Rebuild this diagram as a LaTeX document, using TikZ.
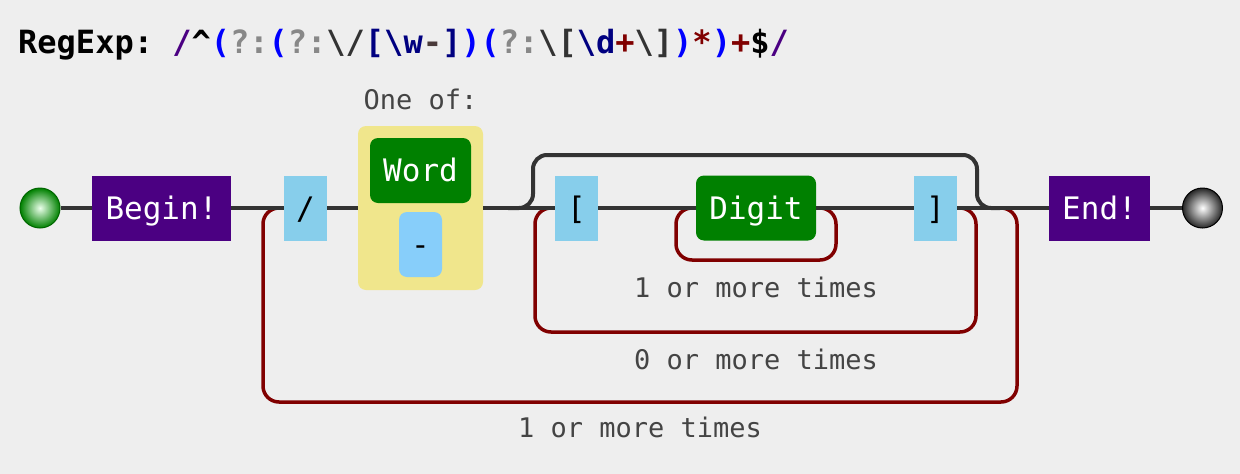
\documentclass[tikz,border=0pt]{standalone}
\usepackage{fontspec}
\setmonofont{DejaVu Sans Mono}
\usetikzlibrary{calc}

\definecolor{pagebg}{HTML}{EEEEEE}
\definecolor{railgray}{HTML}{333333}
\definecolor{loopred}{HTML}{800000}
\definecolor{anchorpurple}{HTML}{4B0082}
\definecolor{litblue}{HTML}{87CEEB}
\definecolor{setblue}{HTML}{87CEFA}
\definecolor{classgreen}{HTML}{008000}
\definecolor{altyellow}{HTML}{F0E68C}
\definecolor{notegray}{HTML}{444444}
\definecolor{rxblue}{HTML}{0000FF}
\definecolor{rxnavy}{HTML}{000080}
\definecolor{rxgray}{HTML}{888888}
\definecolor{rxmuted}{HTML}{4A3A3A}

\newcommand\railfont{\ttfamily\fontsize{31}{31}\selectfont}
\newcommand\headfont{\ttfamily\bfseries\fontsize{32}{32}\selectfont}
\newcommand\notefont{\ttfamily\fontsize{27}{27}\selectfont}
\newcommand\rxdelim[1]{\textcolor{anchorpurple}{#1}}
\newcommand\rxgrp[1]{\textcolor{rxblue}{#1}}
\newcommand\rxmeta[1]{\textcolor{rxgray}{#1}}
\newcommand\rxesc[1]{\textcolor{railgray}{#1}}
\newcommand\rxset[1]{\textcolor{rxnavy}{#1}}
\newcommand\rxquant[1]{\textcolor{loopred}{#1}}

\begin{document}
\begin{tikzpicture}[x=1pt, y=-1pt,
	rail/.style={line width=4pt, color=railgray},
	repeatloop/.style={line width=3.5pt, color=loopred, rounded corners=16pt},
	railbox/.style={inner sep=0pt, minimum height=65pt, font=\railfont, text height=22.6pt, text depth=0pt},
	anchorbox/.style={railbox, fill=anchorpurple, text=white},
	litbox/.style={railbox, fill=litblue, text=black, minimum width=43pt},
	classbox/.style={railbox, fill=classgreen, text=white, rounded corners=8pt},
	notetext/.style={font=\notefont, text=notegray, anchor=base, inner sep=0pt}]
			%%%%% START %%%%%
			
			\fill[pagebg] (0, 0) rectangle (1240, 474);
			
			\node[anchor=base west, inner sep=0pt, font=\headfont] (title) at (18, 53) {RegExp: \rxdelim{/}\textasciicircum\rxgrp{(}\rxmeta{?:}\rxgrp{(}\rxmeta{?:}\rxesc{\textbackslash/}\rxset{[\textbackslash w}\textcolor{rxmuted}{-}\rxset{]}\rxgrp{)}\rxgrp{(}\rxmeta{?:}\rxesc{\textbackslash[}\rxset{\textbackslash d}\rxquant{+}\rxesc{\textbackslash]}\rxgrp{)}\rxquant{*}\rxgrp{)}\rxquant{+}\$\rxdelim{/}};
			
			\node[circle, minimum size=40pt, inner sep=0pt, draw=green!40!black, line width=1pt, inner color=green!8!white, outer color=classgreen] (start) at (40, 208) {};
			\node[anchorbox, minimum width=139pt] (begin) at (161.5, 208) {Begin!};
			\node[litbox] (slash) at (305.5, 208) {/};
			
			\node[fill=altyellow, rounded corners=8pt, minimum width=125pt, minimum height=164pt, inner sep=0pt] (oneof) at (420.5, 208) {};
			\node[classbox, minimum width=101pt] (word) at (420.5, 170.5) {Word};
			\node[railbox, fill=setblue, rounded corners=8pt, minimum width=43pt] (dash) at (420.5, 244.5) {-};
			\node[notetext] (oneoflbl) at (420.5, 109) {One of:};
			
			\node[litbox] (lbrack) at (576.5, 208) {[};
			\node[classbox, minimum width=120pt] (digit) at (756, 208) {Digit};
			\node[litbox] (rbrack) at (935.5, 208) {]};
			
			\node[anchorbox, minimum width=101pt] (endbox) at (1099.5, 208) {End!};
			\node[circle, minimum size=40pt, inner sep=0pt, draw=black, line width=1pt, inner color=white, outer color=black!85] (stop) at (1202.5, 208) {};
			
			\coordinate (grpin) at (508, 208);
			\coordinate (grpout) at (1000, 208);
			
			% repeat loops
			\draw[repeatloop] (digit.east) -| (836, 260) -| (676, 208) -- (digit.west);
			\draw[repeatloop] (rbrack.east) -| (976, 332) -| (535, 208) -- (lbrack.west);
			\draw[repeatloop] (grpout) -| (1017, 402) -| (263, 208) -- (slash.west);
			
			\node[notetext] (digitrep) at (756, 297) {1 or more times};
			\node[notetext] (grprep) at (756, 369) {0 or more times};
			\node[notetext] (allrep) at (640, 437) {1 or more times};
			
			% main rail
			\draw[rail] (start) -- (begin);
			\draw[rail] (begin) -- (slash);
			\draw[rail] (slash) -- (oneof);
			\draw[rail] (oneof.east) -- (lbrack.west);
			\draw[rail] (lbrack) -- (digit);
			\draw[rail] (digit) -- (rbrack);
			\draw[rail] (rbrack) -- (endbox);
			\draw[rail] (endbox) -- (stop);
			\draw[rail, rounded corners=14pt] (grpin) -| (533, 155) -| (977, 208) -- (grpout);
			
			%%%%% END %%%%%
		\end{tikzpicture}
\end{document}
